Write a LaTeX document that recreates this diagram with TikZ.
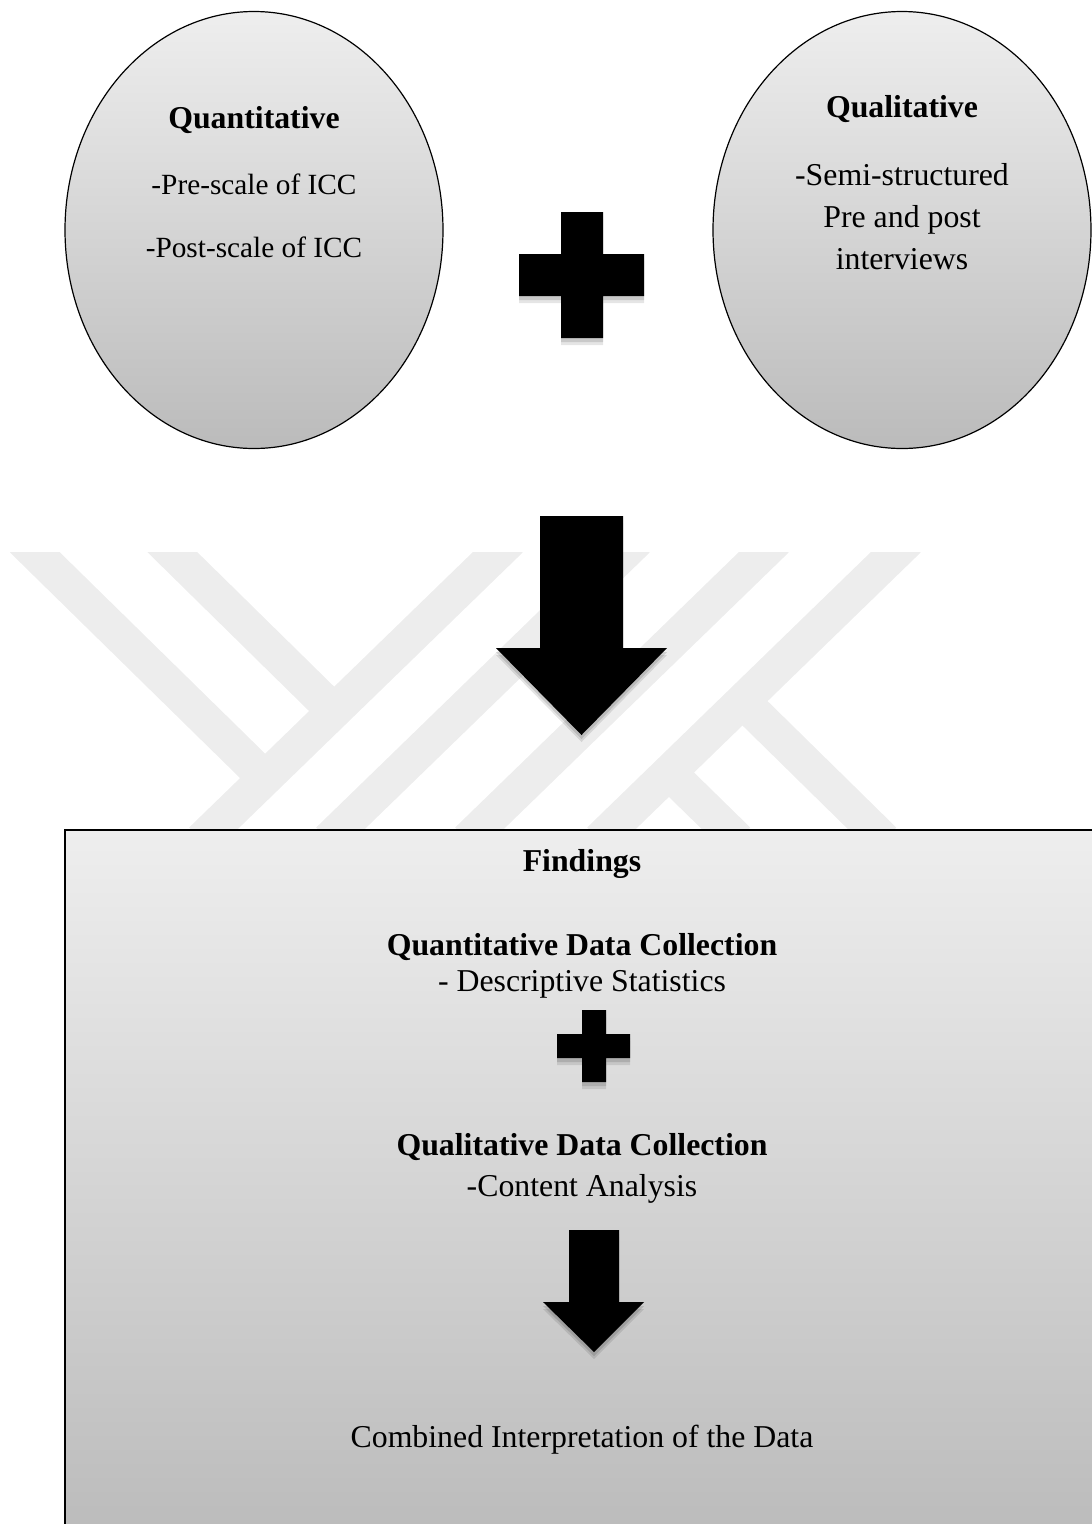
\documentclass[tikz,border=0pt]{standalone}
\usepackage{fontspec}
\setmainfont{Liberation Serif}
\usetikzlibrary{shapes.geometric}
\definecolor{gtop}{HTML}{EEEEEE}
\definecolor{gbot}{HTML}{BBBBBB}
\definecolor{wmark}{HTML}{EDEDED}
\begin{document}
\begin{tikzpicture}[x=1pt,y=-1pt,
  headtxt/.style={font=\fontsize{31.8}{42}\selectfont\bfseries, anchor=base, inner sep=0pt},
  bodytxt/.style={font=\fontsize{31.8}{42}\selectfont, anchor=base, inner sep=0pt},
  bodysmall/.style={font=\fontsize{29.3}{40}\selectfont, anchor=base, inner sep=0pt},
  bubble/.style={ellipse, draw=black, line width=1.2pt, top color=gtop, bottom color=gbot,
                 minimum width=378pt, minimum height=437pt, inner sep=0pt},
  blockshape/.style={fill=black,
     preaction={fill=black, opacity=.10, transform canvas={yshift=-7pt}},
     preaction={fill=black, opacity=.12, transform canvas={yshift=-4pt}}},
  stripe/.style={draw=wmark, line width=35pt}
]
\useasboundingbox (0,0) rectangle (1092,1524);
\begin{scope}
\clip (0,0) rectangle (1092,1524);

% watermark
\begin{scope}
\clip (0,552) rectangle (1092,830);
\draw[stripe] (22.3,540) -- (265,778);
\draw[stripe] (160,540) -- (334,711);
\draw[stripe] (742.5,701) -- (884,840);
\draw[stripe] (669,772.5) -- (738,840);
\draw[stripe] (510.4,540) -- (201.4,840);
\draw[stripe] (637.4,540) -- (328.4,840);
\draw[stripe] (776.4,540) -- (467.4,840);
\draw[stripe] (908.4,540) -- (599.4,840);
\end{scope}

% top bubbles
\node[bubble] (quant) at (254,230) {};
\node[bubble] (qual) at (902,230) {};

\node[headtxt] (quantT) at (254,128) {Quantitative};
\node[bodysmall] (quantA) at (254,194) {-Pre-scale of ICC};
\node[bodysmall] (quantB) at (254,257) {-Post-scale of ICC};

\node[headtxt] (qualT) at (902,117) {Qualitative};
\node[bodytxt] (qualA) at (902,185) {-Semi-structured};
\node[bodytxt] (qualB) at (902,227) {Pre and post};
\node[bodytxt] (qualC) at (902,269) {interviews};

% big plus
\path[blockshape] (561,212) -- (603,212) -- (603,254) -- (644,254) -- (644,296) -- (603,296)
  -- (603,338) -- (561,338) -- (561,296) -- (519,296) -- (519,254) -- (561,254) -- cycle;

% big arrow
\path[blockshape] (540,516) -- (623,516) -- (623,648) -- (667,648) -- (581.5,735)
  -- (496,648) -- (540,648) -- cycle;

% findings box
\node[draw=black, line width=2pt, rectangle, top color=gtop, bottom color=gbot,
      minimum width=1045pt, minimum height=710pt, inner sep=0pt] (box) at (587.5,1185) {};

\node[headtxt] (find) at (582,871) {Findings};
\node[headtxt] (qdc) at (582,955) {Quantitative Data Collection};
\node[bodytxt] (desc) at (582,991) {- Descriptive Statistics};

% small plus
\path[blockshape] (582,1010) -- (606,1010) -- (606,1034) -- (630,1034) -- (630,1058) -- (606,1058)
  -- (606,1082) -- (582,1082) -- (582,1058) -- (557,1058) -- (557,1034) -- (582,1034) -- cycle;

\node[headtxt] (qldc) at (582,1155) {Qualitative Data Collection};
\node[bodytxt] (cont) at (582,1196) {-Content Analysis};

% small arrow
\path[blockshape] (569,1230) -- (619,1230) -- (619,1302) -- (644,1302) -- (594,1352)
  -- (543,1302) -- (569,1302) -- cycle;

\node[bodytxt] (comb) at (582,1447) {Combined Interpretation of the Data};
\end{scope}
\end{tikzpicture}
\end{document}
